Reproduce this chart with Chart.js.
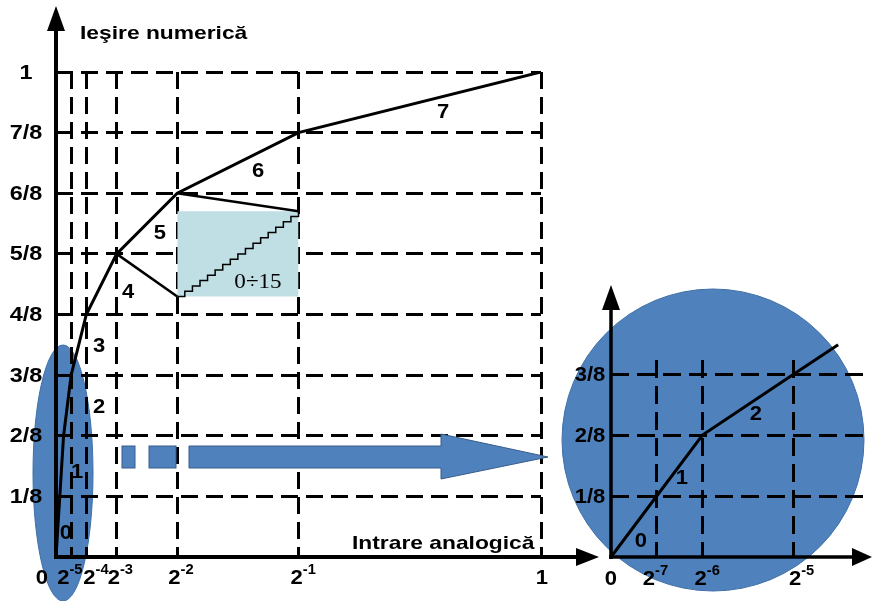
<!DOCTYPE html>
<html>
<head>
<meta charset="utf-8">
<script src="https://cdn.jsdelivr.net/npm/chart.js@4.4.0/dist/chart.umd.min.js"></script>
<style>
  html, body { margin: 0; padding: 0; background: #fff; }
  #wrap { position: relative; width: 873px; height: 601px; overflow: hidden; }
  #zoom { position: absolute; left: 550px; top: 270px; z-index: 0; }
  #main { position: absolute; left: 0; top: 0; z-index: 1; }
</style>
</head>
<body>
<div id="wrap">
  <canvas id="zoom" width="323" height="331"></canvas>
  <canvas id="main" width="873" height="601"></canvas>
</div>
<script>
'use strict';

// companding characteristic, segment end points (input -> output)
var inputLevels  = [0, 1/128, 1/64, 1/32, 1/16, 1/8, 1/4, 1/2, 1];
var outputLevels = [0, 1/8, 2/8, 3/8, 4/8, 5/8, 6/8, 7/8, 1];
var segmentNames = ['0', '1', '2', '3', '4', '5', '6', '7'];

// axis ticks of the main chart
var xTickValues = [1/32, 1/16, 1/8, 1/4, 1/2, 1];
var xTickExp    = ['-5', '-4', '-3', '-2', '-1', ''];
var yTickValues = [1/8, 2/8, 3/8, 4/8, 5/8, 6/8, 7/8, 1];
var yTickLabels = ['1/8', '2/8', '3/8', '4/8', '5/8', '6/8', '7/8', '1'];

// zoom box on segment 5 (16 codes 0..15)
var boxInput  = [0.25, 0.5];
var boxOutput = [0.537, 0.713];
var stairX = [0.25, 0.2656, 0.2813, 0.2969, 0.3125, 0.3281, 0.3438, 0.3594, 0.375,
              0.3906, 0.4063, 0.4219, 0.4375, 0.4531, 0.4688, 0.4844, 0.5];
var stairY = [0.537, 0.548, 0.559, 0.570, 0.581, 0.592, 0.603, 0.614, 0.625,
              0.636, 0.647, 0.658, 0.669, 0.680, 0.691, 0.702, 0.713];

// magnified origin (inset)
var insetInput  = [0, 1/128, 1/64, 1/32, 0.0388];
var insetOutput = [0, 1/8, 2/8, 3/8, 0.435];
var insetXTicks = [1/128, 1/64, 1/32];
var insetXExp   = ['-7', '-6', '-5'];
var insetYTicks = [1/8, 2/8, 3/8];
var insetYLabels = ['1/8', '2/8', '3/8'];

var BLUE = '#4F81BD';
var FONT = '"Liberation Sans", Arial, sans-serif';

function pts(xs, ys) {
  return xs.map(function (x, i) { return { x: x, y: ys[i] }; });
}

function sText(ctx, txt, x, y, align, sx) {
  ctx.save();
  ctx.translate(x, y);
  ctx.scale(sx, 1);
  ctx.textAlign = align;
  ctx.fillText(txt, 0, 0);
  ctx.restore();
}

function power(ctx, exp, left, base) {
  ctx.font = 'bold 21px ' + FONT;
  ctx.textBaseline = 'alphabetic';
  sText(ctx, '2', left, base, 'left', 1.05);
  var w = ctx.measureText('2').width * 1.05;
  ctx.font = 'bold 14px ' + FONT;
  sText(ctx, exp, left + w, base - 10, 'left', 1.05);
}

function arrowUp(ctx, x, tip, baseY, hw) {
  ctx.beginPath();
  ctx.moveTo(x, tip);
  ctx.lineTo(x - hw, baseY);
  ctx.lineTo(x + hw, baseY);
  ctx.closePath();
  ctx.fill();
}
function arrowRight(ctx, y, tip, baseX, hh) {
  ctx.beginPath();
  ctx.moveTo(tip, y);
  ctx.lineTo(baseX, y - hh);
  ctx.lineTo(baseX, y + hh);
  ctx.closePath();
  ctx.fill();
}

function linScale(min, max, ticks, dash, vertical) {
  return {
    type: 'linear', min: min, max: max,
    afterBuildTicks: function (s) { s.ticks = ticks.map(function (v) { return { value: v }; }); },
    afterFit: function (s) { if (vertical) { s.width = 0; } else { s.height = 0; } },
    ticks: { display: false },
    grid: { color: '#000', lineWidth: 3, drawTicks: false },
    border: { display: false, dash: dash }
  };
}

// ---------------- main chart ----------------
var mainDeco = {
  id: 'mainDeco',
  beforeDraw: function (chart) {
    var ctx = chart.ctx;
    ctx.save();
    ctx.fillStyle = BLUE;
    ctx.strokeStyle = '#3f6fa6';
    ctx.lineWidth = 1;
    ctx.beginPath();
    ctx.ellipse(63, 473, 30, 128, 0, 0, Math.PI * 2);
    ctx.fill();
    ctx.stroke();
    ctx.restore();
  },
  beforeDatasetsDraw: function (chart) {
    var ctx = chart.ctx;
    ctx.save();
    ctx.fillStyle = BLUE;
    ctx.strokeStyle = '#385d8a';
    ctx.lineWidth = 1;
    ctx.fillRect(122, 446, 13, 22); ctx.strokeRect(122, 446, 13, 22);
    ctx.fillRect(149, 446, 27, 22); ctx.strokeRect(149, 446, 27, 22);
    ctx.beginPath();
    ctx.moveTo(189, 446);
    ctx.lineTo(441, 446);
    ctx.lineTo(441, 434);
    ctx.lineTo(548, 457);
    ctx.lineTo(441, 479);
    ctx.lineTo(441, 468);
    ctx.lineTo(189, 468);
    ctx.closePath();
    ctx.fill();
    ctx.stroke();
    ctx.restore();
  },
  afterDraw: function (chart) {
    var ctx = chart.ctx;
    var xs = chart.scales.x, ys = chart.scales.y;
    var x0 = xs.getPixelForValue(0), y0 = ys.getPixelForValue(0);
    ctx.save();
    ctx.fillStyle = '#000';
    ctx.strokeStyle = '#000';
    ctx.lineWidth = 4;
    ctx.beginPath();
    ctx.moveTo(x0, y0 + 2); ctx.lineTo(x0, 26);
    ctx.moveTo(x0 - 2, y0); ctx.lineTo(580, y0);
    ctx.stroke();
    arrowUp(ctx, x0, 6, 31, 9);
    arrowRight(ctx, y0, 599, 576, 9);

    // y tick labels
    ctx.font = 'bold 20px ' + FONT;
    ctx.textBaseline = 'middle';
    yTickValues.forEach(function (v, i) {
      sText(ctx, yTickLabels[i], 26, ys.getPixelForValue(v) + 1, 'center', 1.17);
    });
    // x tick labels
    ctx.font = 'bold 21px ' + FONT;
    ctx.textBaseline = 'alphabetic';
    sText(ctx, '0', 42, 584, 'center', 1.05);
    var shift = [-14, -3, -9, -9, -8];
    xTickValues.forEach(function (v, i) {
      var px = xs.getPixelForValue(v);
      if (xTickExp[i]) {
        power(ctx, xTickExp[i], px + shift[i], 584);
      } else {
        ctx.font = 'bold 21px ' + FONT;
        sText(ctx, '1', px + 1, 584, 'center', 1.05);
      }
    });

    // axis titles
    ctx.font = 'bold 19px ' + FONT;
    sText(ctx, 'Ieşire numerică', 80, 39, 'left', 1.2);
    sText(ctx, 'Intrare analogică', 352, 549, 'left', 1.2);

    // segment numbers
    var segPos = [[0.0206, 0.0495], [0.0433, 0.175], [0.0887, 0.309], [0.0887, 0.435],
                  [0.1485, 0.546], [0.2144, 0.668], [0.4165, 0.794], [0.798, 0.9175]];
    ctx.font = 'bold 20px ' + FONT;
    ctx.textBaseline = 'middle';
    segmentNames.forEach(function (n, i) {
      sText(ctx, n, xs.getPixelForValue(segPos[i][0]), ys.getPixelForValue(segPos[i][1]), 'center', 1.1);
    });

    ctx.font = '22px "Liberation Serif", "Times New Roman", serif';
    sText(ctx, '0÷15', xs.getPixelForValue(0.4165), ys.getPixelForValue(0.567), 'center', 1.05);
    ctx.restore();
  }
};

new Chart(document.getElementById('main'), {
  type: 'line',
  data: {
    datasets: [
      {
        data: pts(inputLevels, outputLevels),
        borderColor: '#000', borderWidth: 3, pointRadius: 0, order: 1
      },
      {
        data: pts([1/8, boxInput[0]], [5/8, boxOutput[0]]),
        borderColor: '#000', borderWidth: 2.5, pointRadius: 0, order: 2
      },
      {
        data: pts([1/4, boxInput[1]], [6/8, boxOutput[1]]),
        borderColor: '#000', borderWidth: 2.5, pointRadius: 0, order: 2
      },
      {
        data: pts(stairX, stairY),
        stepped: 'before',
        borderColor: '#000', borderWidth: 1.5, pointRadius: 0, order: 3
      },
      {
        data: pts(boxInput, [boxOutput[1], boxOutput[1]]),
        fill: { value: boxOutput[0] },
        backgroundColor: '#BFDFE5',
        borderWidth: 0, pointRadius: 0, order: 5
      }
    ]
  },
  options: {
    responsive: false,
    animation: false,
    parsing: false,
    layout: { padding: { left: 56, right: 332, top: 72, bottom: 44 } },
    plugins: { legend: { display: false }, tooltip: { enabled: false } },
    scales: {
      x: linScale(0, 1, xTickValues, [17, 8], false),
      y: linScale(0, 1, yTickValues, [17, 8], true)
    }
  },
  plugins: [mainDeco]
});

// ---------------- inset (magnified origin) ----------------
var zoomDeco = {
  id: 'zoomDeco',
  beforeDraw: function (chart) {
    var ctx = chart.ctx;
    ctx.save();
    ctx.fillStyle = BLUE;
    ctx.strokeStyle = '#3f6fa6';
    ctx.lineWidth = 1;
    ctx.beginPath();
    ctx.arc(163, 170, 151, 0, Math.PI * 2);
    ctx.fill();
    ctx.stroke();
    ctx.restore();
  },
  afterDraw: function (chart) {
    var ctx = chart.ctx;
    var xs = chart.scales.x, ys = chart.scales.y;
    var x0 = xs.getPixelForValue(0), y0 = ys.getPixelForValue(0);
    ctx.save();
    ctx.fillStyle = '#000';
    ctx.strokeStyle = '#000';
    ctx.lineWidth = 3.5;
    ctx.beginPath();
    ctx.moveTo(x0, y0 + 2); ctx.lineTo(x0, 36);
    ctx.moveTo(x0 - 2, y0); ctx.lineTo(306, y0);
    ctx.stroke();
    arrowUp(ctx, x0, 15, 40, 9);
    arrowRight(ctx, y0, 322, 302, 9);

    ctx.font = 'bold 20px ' + FONT;
    ctx.textBaseline = 'middle';
    insetYTicks.forEach(function (v, i) {
      sText(ctx, insetYLabels[i], 40, ys.getPixelForValue(v) + 1, 'center', 1.1);
    });
    ctx.textBaseline = 'alphabetic';
    ctx.font = 'bold 21px ' + FONT;
    sText(ctx, '0', x0, 315, 'center', 1.05);
    var shift = [-14, -8, -5];
    insetXTicks.forEach(function (v, i) {
      power(ctx, insetXExp[i], xs.getPixelForValue(v) + shift[i], 315);
    });

    var segPos = [[0.00512, 0.0328], [0.01212, 0.160], [0.02476, 0.293]];
    ctx.font = 'bold 20px ' + FONT;
    ctx.textBaseline = 'middle';
    segPos.forEach(function (p, i) {
      sText(ctx, segmentNames[i], xs.getPixelForValue(p[0]), ys.getPixelForValue(p[1]), 'center', 1.1);
    });
    ctx.restore();
  }
};

new Chart(document.getElementById('zoom'), {
  type: 'line',
  data: {
    datasets: [{
      data: pts(insetInput, insetOutput),
      borderColor: '#000', borderWidth: 3, pointRadius: 0, clip: false
    }]
  },
  options: {
    responsive: false,
    animation: false,
    parsing: false,
    layout: { padding: { left: 61, right: 5, top: 90, bottom: 44 } },
    plugins: { legend: { display: false }, tooltip: { enabled: false } },
    scales: {
      x: linScale(0, 0.0439, insetXTicks, [18, 8], false),
      y: linScale(0, 0.4037, insetYTicks, [18, 8], true)
    }
  },
  plugins: [zoomDeco]
});
</script>
</body>
</html>
